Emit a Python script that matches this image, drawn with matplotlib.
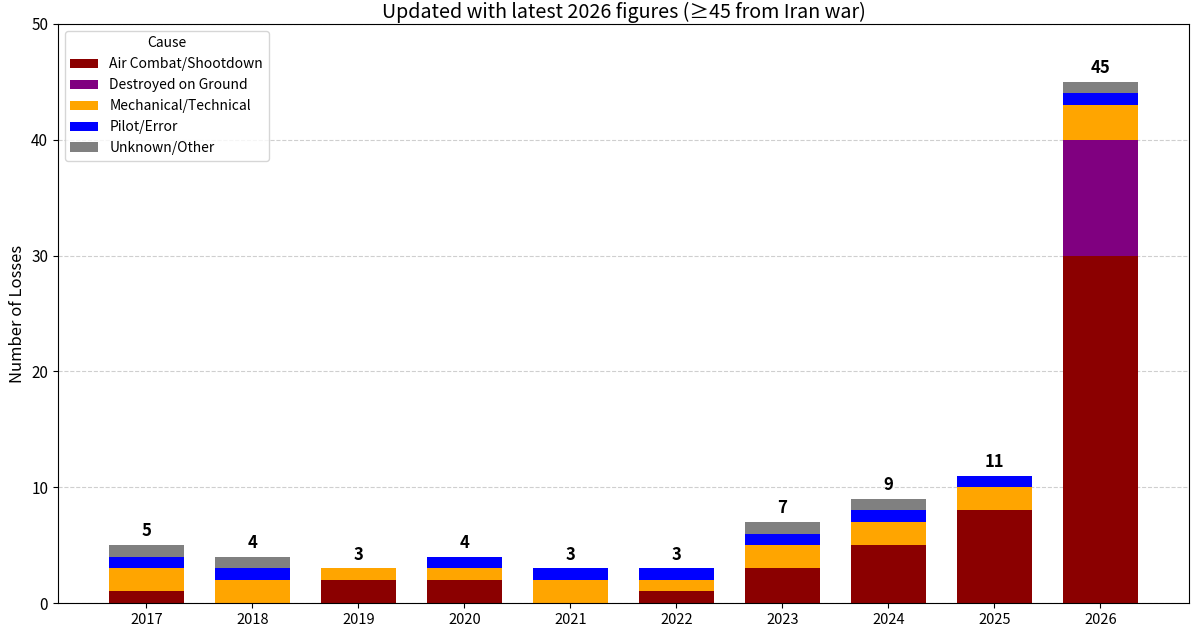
import numpy as np
import matplotlib
matplotlib.use('Agg')
import matplotlib.pyplot as plt

plt.rcParams['font.family'] = ['Noto Sans CJK JP', 'DejaVu Sans']

# dados
anos = ['2017', '2018', '2019', '2020', '2021', '2022', '2023', '2024', '2025', '2026']
air_combat = [1, 0, 2, 2, 0, 1, 3, 5, 8, 30]
destroyed_ground = [0, 0, 0, 0, 0, 0, 0, 0, 0, 10]
mechanical = [2, 2, 1, 1, 2, 1, 2, 2, 2, 3]
pilot_error = [1, 1, 0, 1, 1, 1, 1, 1, 1, 1]
unknown = [1, 1, 0, 0, 0, 0, 1, 1, 0, 1]

causas = ['Air Combat/Shootdown', 'Destroyed on Ground', 'Mechanical/Technical',
          'Pilot/Error', 'Unknown/Other']
series = [air_combat, destroyed_ground, mechanical, pilot_error, unknown]
cores = ['darkred', 'purple', 'orange', 'blue', 'gray']

fig = plt.figure(figsize=(12, 6.28), dpi=100)
ax = fig.add_axes([0.0483, 0.0398, 0.9425, 0.922])

x = np.arange(len(anos))
base = np.zeros(len(anos))
for nome, vals, cor in zip(causas, series, cores):
    vals = np.array(vals, dtype=float)
    ax.bar(x, vals, 0.7, bottom=base, color=cor, label=nome)
    base += vals

for xi, tot in zip(x, base):
    ax.text(xi, tot + 0.4, f'{int(tot)}', ha='center', va='bottom',
            fontsize=12, fontweight='bold')

ax.set_xticks(x)
ax.set_xticklabels(anos, fontsize=10.5)
ax.set_ylim(0, 50)
ax.set_yticks([0, 10, 20, 30, 40, 50])
ax.tick_params(axis='y', labelsize=11)
ax.set_ylabel('Number of Losses', fontsize=12)
ax.set_title('Updated with latest 2026 figures (≥45 from Iran war)', fontsize=14.2, pad=4)
ax.grid(axis='y', linestyle='--', alpha=0.6)
ax.set_axisbelow(True)
ax.legend(title='Cause', loc='upper left', fontsize=10, title_fontsize=10)

plt.savefig('out.png', dpi=100)
